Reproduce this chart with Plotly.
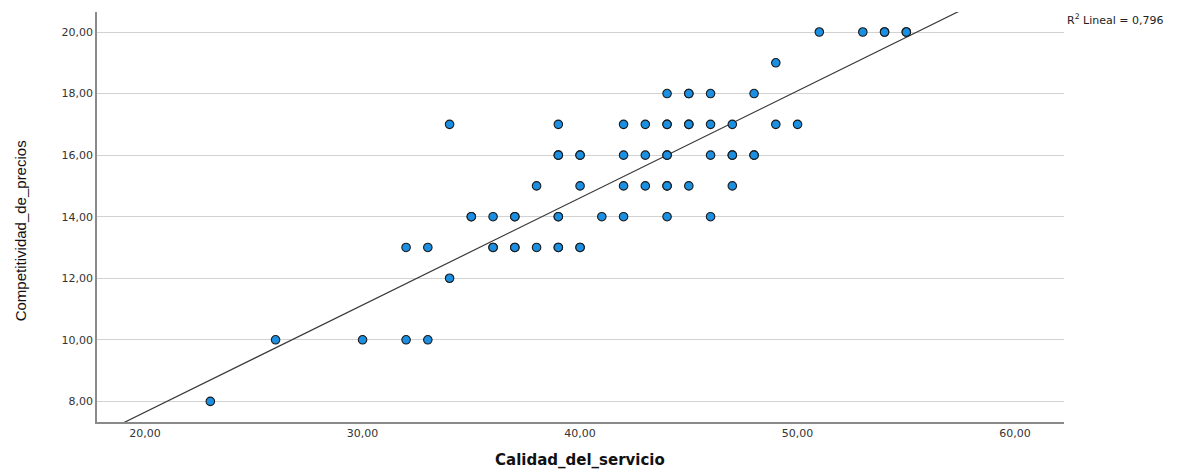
import plotly.graph_objects as go

# Calidad_del_servicio (x) and Competitividad_de_precios (y) per respondent
calidad = [
    51, 53, 54, 54, 55, 55,
    49,
    44, 45, 45, 46, 48,
    34, 39, 42, 43, 44, 44, 45, 45, 46, 47, 49, 50,
    39, 39, 40, 40, 42, 43, 44, 44, 46, 47, 47, 48, 48,
    38, 40, 42, 43, 44, 44, 45, 47,
    35, 35, 36, 37, 37, 39, 39, 41, 42, 44, 46,
    32, 33, 36, 36, 37, 37, 38, 39, 39, 40, 40,
    34,
    26, 30, 32, 33,
    23,
]
competitividad = [
    20, 20, 20, 20, 20, 20,
    19,
    18, 18, 18, 18, 18,
    17, 17, 17, 17, 17, 17, 17, 17, 17, 17, 17, 17,
    16, 16, 16, 16, 16, 16, 16, 16, 16, 16, 16, 16, 16,
    15, 15, 15, 15, 15, 15, 15, 15,
    14, 14, 14, 14, 14, 14, 14, 14, 14, 14, 14,
    13, 13, 13, 13, 13, 13, 13, 13, 13, 13, 13,
    12,
    10, 10, 10, 10,
    8,
]

# Linear fit line (R² = 0,796)
fit_intercept = 0.69
fit_slope = 0.348
r2_label = "R<sup>2</sup> Lineal = 0,796"

x_range = [17.79, 62.25]
y_range = [7.33, 20.65]
x_ticks = [20, 30, 40, 50, 60]
y_ticks = [8, 10, 12, 14, 16, 18, 20]

fit_x = list(x_range)
fit_y = [fit_intercept + fit_slope * v for v in fit_x]

fig = go.Figure()
fig.add_trace(go.Scatter(
    x=fit_x, y=fit_y, mode="lines",
    line=dict(color="#3a3a3a", width=1.2),
    hoverinfo="skip", showlegend=False,
))
fig.add_trace(go.Scatter(
    x=calidad, y=competitividad, mode="markers",
    marker=dict(size=8.5, color="#1b8fe2", line=dict(color="#1a1a1a", width=1.1)),
    showlegend=False,
))

tick_font = dict(family="DejaVu Sans", size=11, color="#333333")

fig.update_layout(
    width=1190, height=472,
    margin=dict(l=97, r=126, t=12, b=50),
    paper_bgcolor="white", plot_bgcolor="white",
    xaxis=dict(
        range=x_range, tickmode="array", tickvals=x_ticks,
        ticktext=[f"{v},00" for v in x_ticks],
        showgrid=False, zeroline=False,
        showline=True, linecolor="#8a8a8a", linewidth=1.5,
        ticks="", tickfont=tick_font,
    ),
    yaxis=dict(
        range=y_range, tickmode="array", tickvals=y_ticks,
        ticktext=[f"{v},00" for v in y_ticks],
        showgrid=True, gridcolor="#d2d2d2", gridwidth=1,
        zeroline=False,
        showline=True, linecolor="#8a8a8a", linewidth=1.5,
        ticks="", tickfont=tick_font,
    ),
    annotations=[
        dict(
            text="Calidad_del_servicio", xref="paper", yref="paper",
            x=(580 - 97) / (1064 - 97), y=-38 / 410, xanchor="center", yanchor="middle",
            showarrow=False,
            font=dict(family="DejaVu Sans", size=15, color="#111111", weight="bold"),
        ),
        dict(
            text="Competitividad_de_precios", xref="paper", yref="paper",
            x=-77 / 967, y=(421.7 - 231) / 410, xanchor="center", yanchor="middle",
            textangle=-90, showarrow=False,
            font=dict(family="Liberation Sans", size=15, color="#111111"),
        ),
        dict(
            text=r2_label, xref="paper", yref="paper",
            x=1.0, y=(421.7 - 19) / 410, xanchor="left", yanchor="middle",
            xshift=1, showarrow=False,
            font=dict(family="DejaVu Sans", size=11, color="#222222"),
        ),
    ],
)

fig.write_html("out.html")
